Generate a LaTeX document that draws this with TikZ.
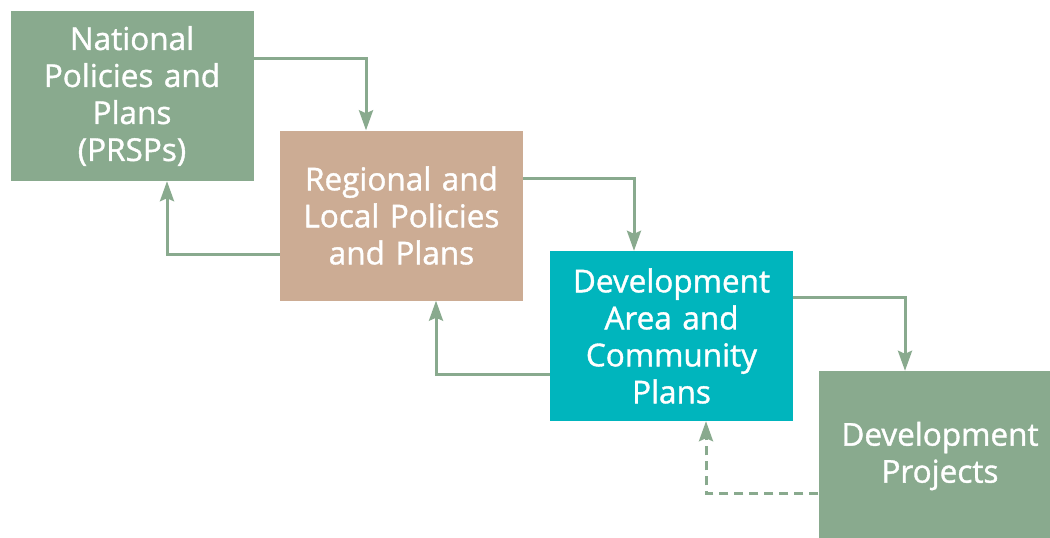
\documentclass[tikz,border=0pt]{standalone}
\usepackage{fontspec}
\setmainfont{Open Sans}
\newfontfamily\boxfont{Open Sans}[FakeBold=1.2]
\definecolor{sagegreen}{RGB}{137, 170, 142}
\definecolor{sandtan}{RGB}{204, 172, 148}
\definecolor{tealblue}{RGB}{0, 181, 189}
\usetikzlibrary{arrows.meta, positioning}

\begin{document}
\begin{tikzpicture}[x=1pt, y=-1pt,
    planbox/.style={minimum width=243pt, minimum height=170pt, text width=238pt,
      align=center, inner sep=0pt, text=white,
      font=\boxfont\fontsize{31.5}{37}\selectfont},
    link/.style={draw=sagegreen, line width=3pt,
      -{Stealth[length=20pt, width=14pt, inset=3pt]}}]
  \clip (0,0) rectangle (1050,538);
  \fill[white] (0,0) rectangle (1050,538);

  % The four planning levels, stepping down
  \node[planbox, fill=sagegreen] (nat) at (132, 96) {National\\Policies and\\Plans\\(PRSPs)};
  \node[planbox, fill=sandtan] (reg) at (401.5, 215.5) {Regional and\\Local Policies\\and Plans};
  \node[planbox, fill=tealblue] (comm) at (671.5, 336) {Development\\Area and\\Community\\Plans};
  \node[planbox, fill=sagegreen] (proj) at (940, 456) {Development\\Projects};

  % Downward links
  \draw[link] ([yshift=38pt]nat.east) -| ([xshift=-35.5pt]reg.north);
  \draw[link] ([yshift=37.5pt]reg.east) -| ([xshift=-37.5pt]comm.north);
  \draw[link] ([yshift=39pt]comm.east) -| ([xshift=-35pt]proj.north);

  % Feedback links
  \draw[link] ([yshift=-38.5pt]reg.west) -| ([xshift=35pt]nat.south);
  \draw[link] ([yshift=-38pt]comm.west) -| ([xshift=34.5pt]reg.south);
  \draw[link, dash pattern=on 9pt off 6pt] ([yshift=-37pt]proj.west) -| ([xshift=34.5pt]comm.south);
\end{tikzpicture}
\end{document}
